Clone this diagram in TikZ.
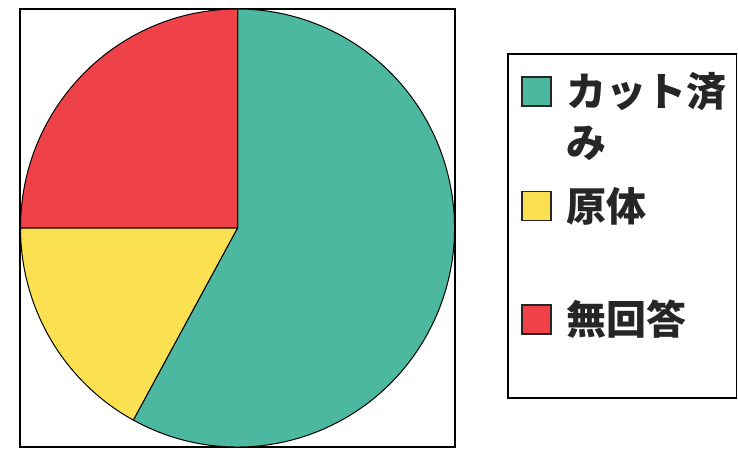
\documentclass[tikz,border=0pt]{standalone}
\usepackage{fontspec}
\newfontfamily\cjk{Noto Sans CJK JP}
\usetikzlibrary{positioning}
\definecolor{pieteal}{RGB}{77,184,160}
\definecolor{pieyellow}{RGB}{251,224,82}
\definecolor{piered}{RGB}{238,66,72}

\begin{document}
\begin{tikzpicture}[x=1pt, y=1pt]
\tikzstyle{slice} = [draw=black, line width=1pt]
\tikzstyle{key} = [rectangle, minimum width=29pt, minimum height=29pt, inner sep=0pt, draw=black!85, line width=1.6pt]
\tikzstyle{keytext} = [anchor=west, inner sep=0pt, text=black!85, font=\cjk\bfseries\fontsize{40}{48}\selectfont]

\useasboundingbox (0,0) rectangle (738,448);

% pie frame
\draw[line width=1.2pt] (20,1) rectangle (455,439);

\coordinate (c) at (237.5,220);
\filldraw[slice, fill=pieteal] (c) -- ++(241.3:217 and 219) arc[start angle=241.3, end angle=450, x radius=217, y radius=219] -- cycle;
\filldraw[slice, fill=piered] (c) -- ++(90:217 and 219) arc[start angle=90, end angle=180, x radius=217, y radius=219] -- cycle;
\filldraw[slice, fill=pieyellow] (c) -- ++(180:217 and 219) arc[start angle=180, end angle=241.3, x radius=217, y radius=219] -- cycle;

% legend
\draw[line width=1.4pt] (508,50) rectangle (736.5,394);

\node (kcut) [key, fill=pieteal] at (536.5,356.5) {};
\node (kraw) [key, fill=pieyellow] at (536.5,242) {};
\node (knone) [key, fill=piered] at (536.5,128.5) {};

\node (cut) [keytext, right=14pt of kcut] {カット済};
\node (cut2) [keytext, below=15pt of cut.south west, anchor=north west] {み};
\node (raw) [keytext, right=14pt of kraw] {原体};
\node (none) [keytext, right=14pt of knone] {無回答};

\end{tikzpicture}
\end{document}
